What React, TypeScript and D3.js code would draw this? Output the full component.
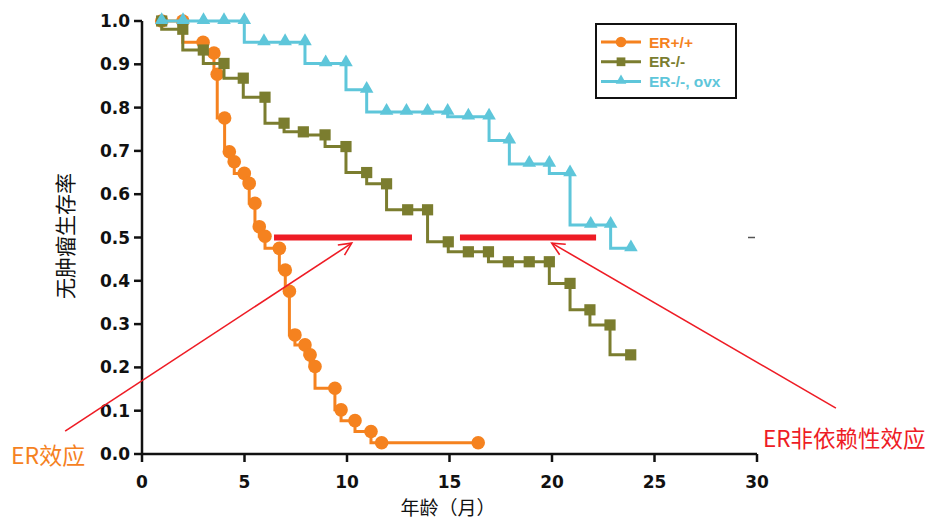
import React from "react";
import * as d3 from "d3";

// survival curves: [month, survival]
const erWild: [number, number][] = [
  [0.96, 1.0], [1.99, 1.0], [2.98, 0.951], [3.51, 0.926], [3.67, 0.877],
  [4.03, 0.776], [4.26, 0.698], [4.5, 0.675], [4.99, 0.648], [5.23, 0.625],
  [5.51, 0.579], [5.72, 0.525], [6.0, 0.503], [6.7, 0.475], [6.99, 0.425],
  [7.19, 0.376], [7.46, 0.275], [7.95, 0.252], [8.2, 0.229], [8.44, 0.202],
  [9.41, 0.152], [9.71, 0.102], [10.39, 0.077], [11.17, 0.052], [11.69, 0.026],
  [16.4, 0.026],
];
const erKo: [number, number][] = [
  [0.96, 1.0], [1.99, 0.981], [2.99, 0.933], [4.0, 0.902], [4.94, 0.868],
  [6.0, 0.824], [6.93, 0.764], [7.87, 0.744], [8.93, 0.737], [9.95, 0.71],
  [10.96, 0.65], [11.93, 0.624], [12.96, 0.564], [13.93, 0.564], [14.94, 0.49],
  [15.92, 0.467], [16.9, 0.467], [17.87, 0.444], [18.89, 0.444], [19.87, 0.444],
  [20.88, 0.394], [21.85, 0.333], [22.83, 0.298], [23.84, 0.229],
];
const erKoOvx: [number, number][] = [
  [0.96, 1.0], [2.0, 1.0], [3.0, 1.0], [4.0, 1.0], [4.99, 1.0],
  [5.95, 0.951], [6.98, 0.951], [7.95, 0.951], [8.96, 0.902], [9.95, 0.902],
  [10.96, 0.841], [11.93, 0.79], [12.9, 0.79], [13.93, 0.79], [14.91, 0.79],
  [15.92, 0.779], [16.93, 0.779], [17.92, 0.724], [18.89, 0.67], [19.87, 0.67],
  [20.88, 0.648], [21.89, 0.529], [22.86, 0.529], [23.85, 0.475],
];

const seriesNames = ["ER+/+", "ER-/-", "ER-/-, ovx"];
const seriesColors = ["#f5821f", "#7b7d2f", "#5ec6da"];
const xTicks = [0, 5, 10, 15, 20, 25, 30];
const yTicks = [0, 0.1, 0.2, 0.3, 0.4, 0.5, 0.6, 0.7, 0.8, 0.9, 1.0];

// median (50%) spans and arrows, in data units
const medianBars: [number, number][] = [[6.44, 13.17], [15.51, 22.15]];
const arrows = [
  { from: [-3.75, 0.053], to: [10.23, 0.487], label: "ER效应", color: "#f5821f" },
  { from: [33.85, 0.106], to: [19.99, 0.487], label: "ER非依赖性效应", color: "#ee1c25" },
];

const W = 925;
const H = 522;
const x = d3.scaleLinear().domain([0, 30]).range([142, 757]);
const y = d3.scaleLinear().domain([0, 1]).range([454, 21]);

const line = d3
  .line<[number, number]>()
  .x(d => x(d[0]))
  .y(d => y(d[1]))
  .curve(d3.curveStepBefore);

const tri = d3.symbol().type(d3.symbolTriangle);

function Marker({ kind, cx, cy, color, s = 1 }: any) {
  if (kind === 0) return <circle cx={cx} cy={cy} r={6.8 * s} fill={color} />;
  if (kind === 1)
    return <rect x={cx - 5.6 * s} y={cy - 5.6 * s} width={11.2 * s} height={11.2 * s} fill={color} />;
  return <path d={tri.size(80 * s * s)()!} transform={`translate(${cx},${cy - 1})`} fill={color} />;
}

export default function App() {
  const series = [erWild, erKo, erKoOvx];
  const numFont = "'DejaVu Sans', Arial, sans-serif";
  const cjk = "'Noto Sans CJK SC', sans-serif";

  return (
    <svg width={W} height={H} style={{ position: "absolute", left: 0, top: 0, background: "#fff" }}>
      {/* axes */}
      <g stroke="#111" strokeWidth={2.5} fill="none">
        <line x1={x(0)} x2={x(30)} y1={y(0)} y2={y(0)} />
        <line x1={x(0)} x2={x(0)} y1={y(0) + 1} y2={y(1)} />
        {xTicks.map(t => (
          <line key={t} x1={x(t)} x2={x(t)} y1={y(0)} y2={y(0) + 8} />
        ))}
        {yTicks.map(t => (
          <line key={t} x1={x(0) - 8} x2={x(0)} y1={y(t)} y2={y(t)} />
        ))}
      </g>
      <g fontFamily={numFont} fontWeight="bold" fontSize={17} fill="#111">
        {xTicks.map(t => (
          <text key={t} x={x(t)} y={488} textAnchor="middle">{t}</text>
        ))}
        {yTicks.map(t => (
          <text key={t} x={130} y={y(t) + 6} textAnchor="end">{t.toFixed(1)}</text>
        ))}
      </g>
      <text x={448} y={515} textAnchor="middle" fontFamily={cjk} fontSize={19} fill="#111">
        年龄（月）
      </text>
      <text
        transform={`translate(64,${236}) rotate(-90)`}
        textAnchor="middle"
        dominantBaseline="central"
        fontFamily={cjk}
        fontSize={21}
        fill="#111"
      >
        无肿瘤生存率
      </text>

      {/* curves */}
      {series.map((d, i) => (
        <g key={i}>
          <path d={line(d)!} fill="none" stroke={seriesColors[i]} strokeWidth={3} />
          {d.map((p, j) => (
            <Marker key={j} kind={i} cx={x(p[0])} cy={y(p[1])} color={seriesColors[i]} />
          ))}
        </g>
      ))}

      {/* legend */}
      <rect x={596} y={24} width={140} height={74} fill="#fff" stroke="#111" strokeWidth={2} />
      {seriesNames.map((n, i) => {
        const ly = 42 + i * 19.8;
        return (
          <g key={n}>
            <line x1={601} x2={641} y1={ly} y2={ly} stroke={seriesColors[i]} strokeWidth={3} />
            <Marker kind={i} cx={621} cy={ly} color={seriesColors[i]} s={0.78} />
            <text
              x={649}
              y={ly + 5.5}
              fontFamily="'Liberation Sans', Arial, sans-serif"
              fontWeight="bold"
              fontSize={15.5}
              fill={seriesColors[i]}
            >
              {n}
            </text>
          </g>
        );
      })}

      {/* 50% spans */}
      {medianBars.map((b, i) => (
        <line key={i} x1={x(b[0])} x2={x(b[1])} y1={y(0.5)} y2={y(0.5)} stroke="#ee1c25" strokeWidth={6} />
      ))}
      <line x1={748} x2={755} y1={y(0.5)} y2={y(0.5)} stroke="#555" strokeWidth={1.5} />

      {/* arrows */}
      {arrows.map((a, i) => {
        const x1 = x(a.from[0]), y1 = y(a.from[1]);
        const x2 = x(a.to[0]), y2 = y(a.to[1]);
        const ang = Math.atan2(y2 - y1, x2 - x1);
        const hl = 14, spread = 0.45;
        const h1 = [x2 - hl * Math.cos(ang - spread), y2 - hl * Math.sin(ang - spread)];
        const h2 = [x2 - hl * Math.cos(ang + spread), y2 - hl * Math.sin(ang + spread)];
        return (
          <g key={i} stroke="#ee1c25" strokeWidth={1.6} fill="none">
            <line x1={x1} y1={y1} x2={x2} y2={y2} />
            <polyline points={`${h1[0]},${h1[1]} ${x2},${y2} ${h2[0]},${h2[1]}`} />
          </g>
        );
      })}
      <text x={11} y={464} fontFamily={cjk} fontSize={23} fill={arrows[0].color}>
        {arrows[0].label}
      </text>
      <text x={763} y={447} fontFamily={cjk} fontSize={22.5} fill={arrows[1].color}>
        {arrows[1].label}
      </text>
    </svg>
  );
}
